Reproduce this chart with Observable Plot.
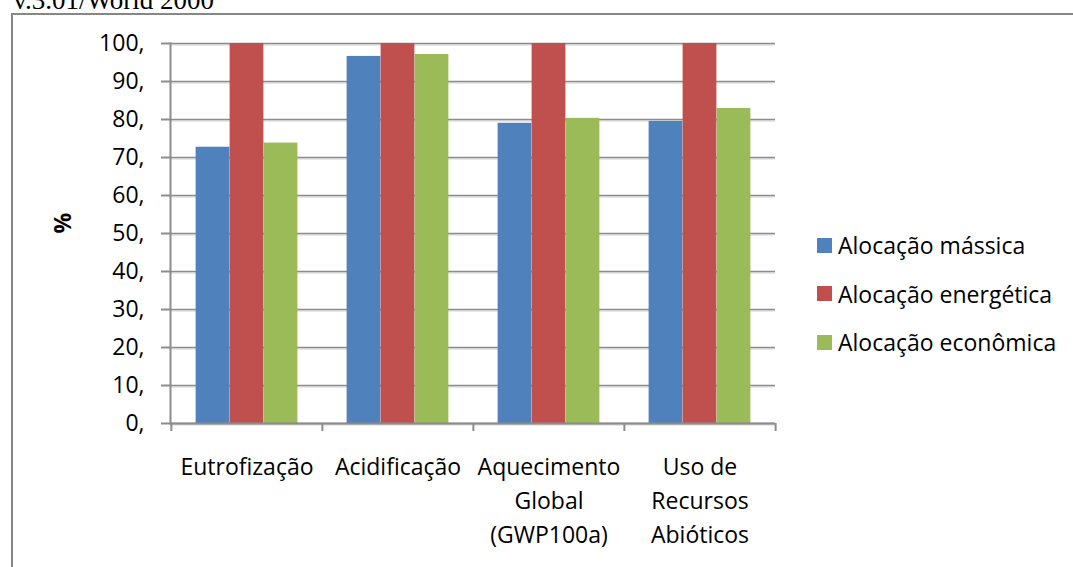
<!DOCTYPE html>
<html>
<head>
<meta charset="utf-8">
<script src="https://cdn.jsdelivr.net/npm/d3@7"></script>
<script src="https://cdn.jsdelivr.net/npm/@observablehq/plot@0.6"></script>
<style>
  html, body { margin: 0; padding: 0; background: #fff; }
  #wrap { position: relative; width: 1073px; height: 567px; overflow: hidden; font-family: "Open Sans", sans-serif; }
  #source { position: absolute; left: 0; top: -13px; width: 214px; text-align: right; font-family: "Liberation Serif", serif; font-size: 27px; line-height: 27px; color: #000; white-space: nowrap; }
  #box { position: absolute; left: 11px; top: 13px; width: 1100px; height: 600px; border: 2px solid #878787; box-sizing: border-box; }
  #chart { position: absolute; left: 0; top: 0; }
  #legend { position: absolute; left: 817px; top: 221px; font-size: 23px; color: #000; }
  #legend .row { display: flex; align-items: center; height: 48.5px; }
  #legend .sw { width: 15px; height: 15px; margin-right: 6px; }
</style>
</head>
<body>
<div id="wrap">
  <div id="source">v.3.01/World 2000</div>
  <div id="box"></div>
  <div id="chart"></div>
  <div id="legend"></div>
</div>
<script>
// Impact categories (x axis) and allocation methods (series)
const categories = ["Eutrofização", "Acidificação", "Aquecimento\nGlobal\n(GWP100a)", "Uso de\nRecursos\nAbióticos"];
const series = ["Alocação mássica", "Alocação energética", "Alocação econômica"];
const colors = ["#4F81BD", "#C0504D", "#9BBB59"];

// Relative results, % of the highest allocation
const massica = [72.7, 96.6, 79.0, 79.5];
const energetica = [100, 100, 100, 100];
const economica = [73.8, 97.1, 80.3, 82.9];
const seriesValues = [massica, energetica, economica];

const yTicks = [0, 10, 20, 30, 40, 50, 60, 70, 80, 90, 100];

// Long-format rows built from the arrays above
const rows = series.flatMap((s, j) =>
  categories.map((c, i) => ({category: c, series: s, value: seriesValues[j][i]}))
);

const width = 800, height = 567;
const marginLeft = 170, marginRight = 25, marginTop = 43, marginBottom = 144;
const band = (width - marginLeft - marginRight) / categories.length;
const barWidth = 34;
const groupStart = band / 2 - (barWidth * series.length) / 2;
const fontSize = 23;

const grid = "#8c8c8c";

const barMarks = series.map((s, j) =>
  Plot.barY(rows.filter(d => d.series === s), {
    x: "category",
    y: "value",
    fill: colors[j],
    insetLeft: groupStart + j * barWidth,
    insetRight: band - (groupStart + (j + 1) * barWidth)
  })
);

const chart = Plot.plot({
  width, height, marginLeft, marginRight, marginTop, marginBottom,
  style: {fontFamily: "Open Sans, sans-serif", fontSize: fontSize + "px", color: "#000", background: "transparent", overflow: "visible"},
  x: {domain: categories, padding: 0, axis: null},
  y: {domain: [0, 100], axis: null},
  marks: [
    // horizontal gridlines with a soft shadow
    Plot.ruleY(yTicks, {stroke: "#d2d2d2", strokeWidth: 1, dy: 1.5}),
    Plot.ruleY(yTicks, {stroke: grid, strokeWidth: 1.6}),
    ...barMarks,
    // value axis
    Plot.axisY({ticks: yTicks, tickSize: 9, tickPadding: 17, tickFormat: d => d + ",", stroke: grid, strokeWidth: 2, label: null, fontSize}),
    Plot.frame({anchor: "left", stroke: grid, strokeWidth: 2}),
    Plot.ruleY([0], {stroke: grid, strokeWidth: 2}),
    // category boundary ticks
    Plot.axisX({ticks: categories, tickSize: 8, tickFormat: () => "", dx: -band / 2, stroke: grid, strokeWidth: 2, label: null}),
    Plot.axisX({ticks: categories.slice(-1), tickSize: 8, tickFormat: () => "", dx: band / 2, stroke: grid, strokeWidth: 2, label: null}),
    // category labels
    Plot.text(categories, {x: d => d, text: d => d, frameAnchor: "bottom", lineAnchor: "top", dy: 27, lineHeight: 1.48, fontSize, fill: "#000"}),
    // value axis title
    Plot.text(["%"], {frameAnchor: "left", rotate: -90, dx: -107, fontWeight: "bold", fontSize, fill: "#000"})
  ]
});
document.getElementById("chart").appendChild(chart);

// Legend
const legend = d3.select("#legend");
series.forEach((s, j) => {
  const row = legend.append("div").attr("class", "row");
  row.append("div").attr("class", "sw").style("background", colors[j]);
  row.append("span").text(s);
});
</script>
</body>
</html>
